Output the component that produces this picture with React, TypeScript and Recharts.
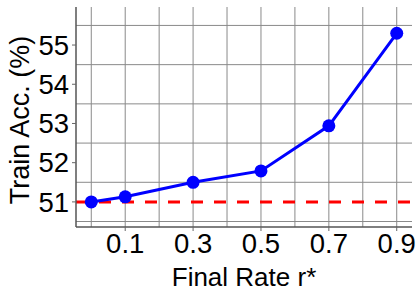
import React from 'react';
import { ComposedChart, Line, XAxis, YAxis, CartesianGrid, ReferenceLine, Label } from 'recharts';

const rates = [0, 0.1, 0.3, 0.5, 0.7, 0.9];
const trainAcc = [51.0, 51.13, 51.5, 51.79, 52.94, 55.3];
const baseline = 51.0;
const xTicks = [0.1, 0.3, 0.5, 0.7, 0.9];
const yTicks = [51, 52, 53, 54, 55];
const xGrid = [0, 0.1, 0.2, 0.3, 0.4, 0.5, 0.6, 0.7, 0.8, 0.9];
const yGrid = [50.5, 51, 51.5, 52, 52.5, 53, 53.5, 54, 54.5, 55, 55.5];

const data = rates.map((r, i) => ({ r, acc: trainAcc[i] }));

const FONT = '"Liberation Sans", Arial, Helvetica, sans-serif';

export default function App() {
  return (
    <div style={{ position: 'absolute', left: 0, top: 0, width: 420, height: 300, background: '#fff' }}>
      <ComposedChart width={420} height={300} data={data} margin={{ top: 7, right: 8, left: 0, bottom: 0 }}>
        <CartesianGrid stroke="#8a8a8a" strokeWidth={1} verticalValues={xGrid} horizontalValues={yGrid} />
        <XAxis
          dataKey="r"
          type="number"
          domain={[-0.045, 0.945]}
          ticks={xTicks}
          allowDataOverflow
          height={73}
          tickSize={4}
          tickLine={{ stroke: '#666' }}
          axisLine={{ stroke: '#555', strokeWidth: 1.5 }}
          tick={{ fill: '#000', fontSize: 27.5, fontFamily: FONT }}
          tickFormatter={(v: number) => v.toFixed(1)}
          tickMargin={2}
        >
          <Label
            content={() => (
              <text x={244} y={286} textAnchor="middle" fontSize={26} fontFamily={FONT} fill="#000">
                Final Rate r*
              </text>
            )}
          />
        </XAxis>
        <XAxis xAxisId="top" orientation="top" type="number" domain={[-0.045, 0.945]} height={0} tick={false} tickLine={false} axisLine={{ stroke: '#444', strokeWidth: 1.5 }} />
        <YAxis
          type="number"
          domain={[50.36, 55.97]}
          ticks={yTicks}
          allowDataOverflow
          width={76}
          tickSize={4}
          tickLine={{ stroke: '#666' }}
          axisLine={{ stroke: '#555', strokeWidth: 1.5 }}
          tick={{ fill: '#000', fontSize: 27.5, fontFamily: FONT }}
          tickMargin={3}
        >
          <Label
            content={() => (
              <text x={20} y={120} transform="rotate(-90 20 120)" textAnchor="middle" dominantBaseline="central" fontSize={27} fontFamily={FONT} fill="#000">
                Train Acc. (%)
              </text>
            )}
          />
        </YAxis>
        <YAxis yAxisId="right" orientation="right" type="number" domain={[50.36, 55.97]} width={0} tick={false} tickLine={false} axisLine={{ stroke: '#444', strokeWidth: 1.5 }} />
        <ReferenceLine y={baseline} stroke="#ff0000" strokeWidth={3} strokeDasharray="12 11" />
        <Line
          dataKey="acc"
          stroke="#0000ff"
          strokeWidth={3}
          dot={{ r: 6.5, fill: '#0000ff', stroke: '#0000ff', strokeWidth: 0 }}
          activeDot={false}
          isAnimationActive={false}
        />
      </ComposedChart>
    </div>
  );
}
